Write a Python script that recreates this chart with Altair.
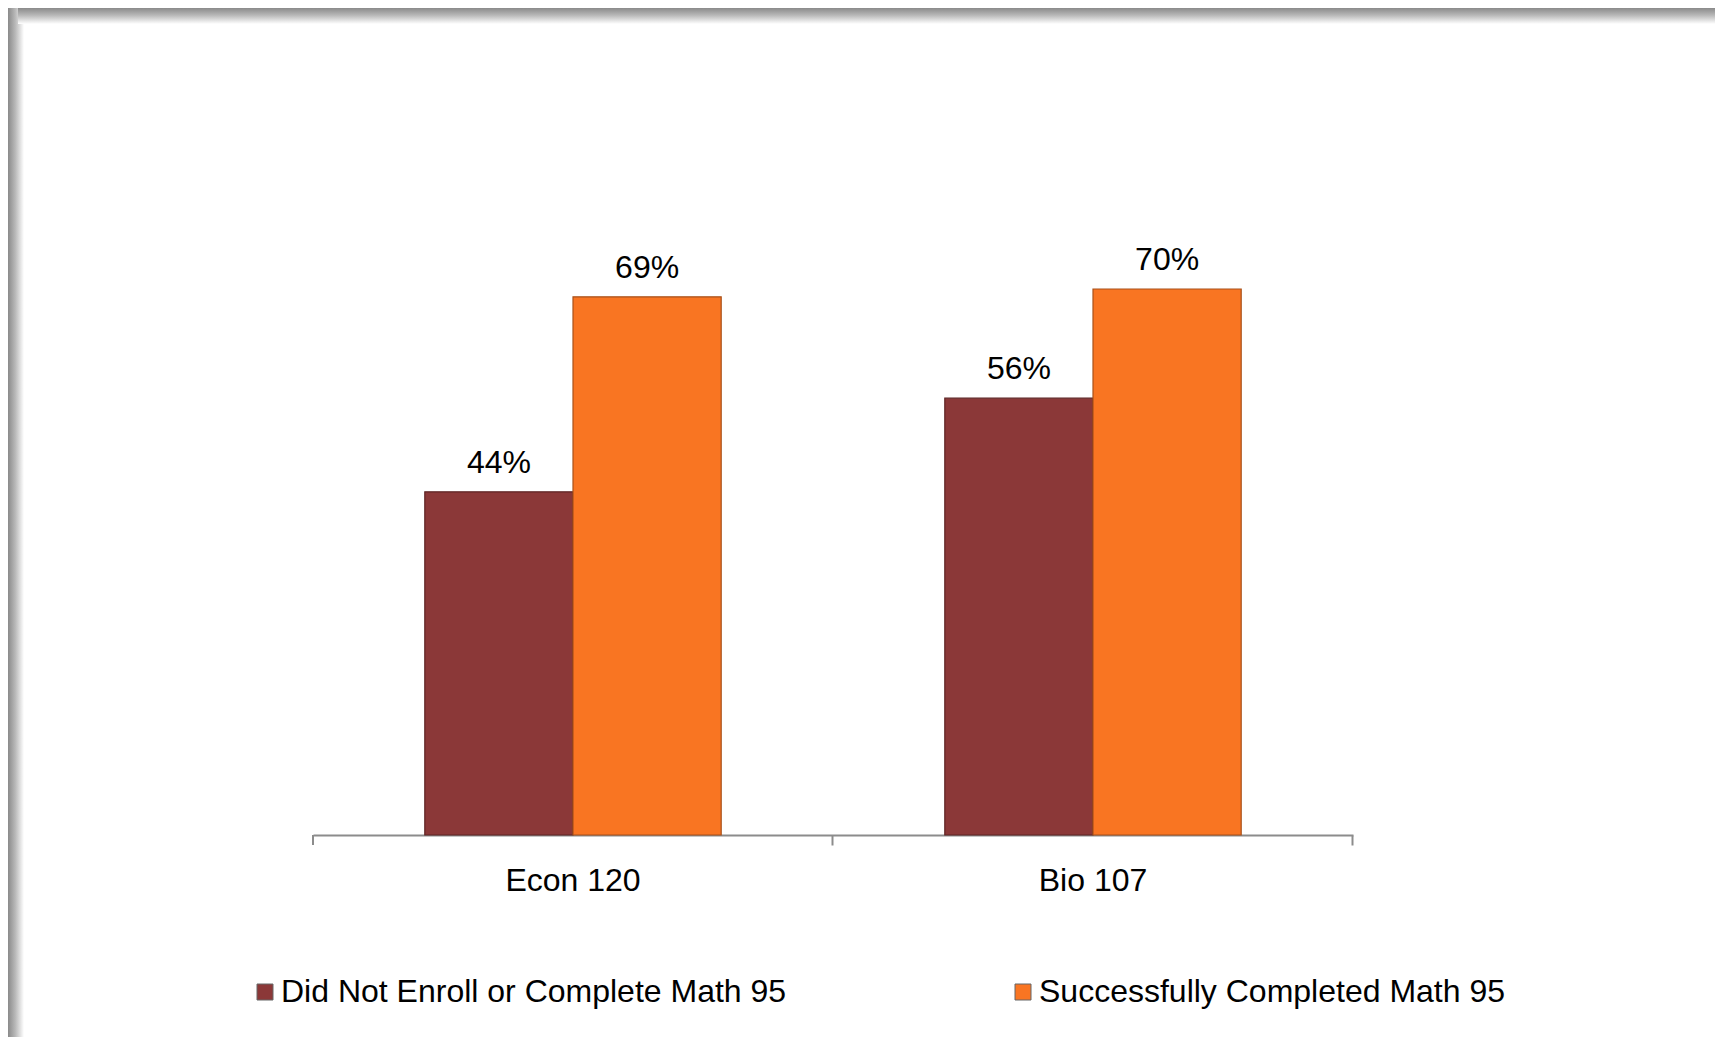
import altair as alt
import pandas as pd

courses = ["Econ 120", "Bio 107"]
groups = ["Did Not Enroll or Complete Math 95", "Successfully Completed Math 95"]
did_not = [44, 56]
completed = [69, 70]
colors = ["#8B3838", "#F97522"]

rows = []
for i, c in enumerate(courses):
    rows.append({"course": c, "group": groups[0], "value": did_not[i], "label": f"{did_not[i]}%"})
    rows.append({"course": c, "group": groups[1], "value": completed[i], "label": f"{completed[i]}%"})
df = pd.DataFrame(rows)

W, H = 1040, 624
PL, PT, PR, PB = 305, 203, 362, 202
FONT = "Liberation Sans"

base = alt.Chart(df)

xenc = alt.X(
    "course:N", sort=courses,
    scale=alt.Scale(paddingInner=0.43, paddingOuter=0.215),
    axis=alt.Axis(title=None, labelAngle=0, bandPosition=1.377, domainColor="#8c8c8c",
                  tickColor="#8c8c8c", tickSize=10, domainWidth=2, tickWidth=2,
                  labelFontSize=32, labelFont=FONT, labelColor="black", labelPadding=20),
)
yenc = alt.Y("value:Q", scale=alt.Scale(domain=[0, 80]), axis=None)
xoff = alt.XOffset("group:N", sort=groups)

bars = base.mark_bar(strokeWidth=1.2).encode(
    x=xenc, y=yenc, xOffset=xoff,
    color=alt.Color("group:N", sort=groups,
                    scale=alt.Scale(domain=groups, range=colors),
                    legend=alt.Legend(title=None, orient="none", legendX=-64, legendY=765,
                                      direction="horizontal",
                                      symbolType="square", symbolSize=256, symbolStrokeWidth=1,
                                      symbolStrokeColor="#666", labelFontSize=32, labelFont=FONT,
                                      labelColor="black", labelLimit=0, labelOffset=0,
                                      columnPadding=220, padding=0)),
    stroke=alt.condition(alt.datum.group == groups[0], alt.value("#5E2424"), alt.value("#A8501A")),
)

labels = base.mark_text(baseline="bottom", dy=-12, fontSize=32, font=FONT, color="black").encode(
    x=alt.X("course:N", sort=courses), xOffset=xoff, y=yenc, text="label:N",
)

stops = [alt.GradientStop(offset=0, color="#8a8a8a"),
         alt.GradientStop(offset=0.45, color="#b8b8b8"),
         alt.GradientStop(offset=1, color="#ffffff")]
left_frame = base.mark_rect(
    fill=alt.LinearGradient(gradient="linear", stops=stops, x1=0, x2=1, y1=0, y2=0)
).encode(x=alt.value(-PL), x2=alt.value(-PL + 16), y=alt.value(-PT), y2=alt.value(H + PB))
top_frame = base.mark_rect(
    fill=alt.LinearGradient(gradient="linear", stops=stops, x1=0, x2=0, y1=0, y2=1)
).encode(x=alt.value(-PL + 10), x2=alt.value(W + PR), y=alt.value(-PT), y2=alt.value(-PT + 16))

# first axis tick at the left end of the category axis
start_tick = base.mark_rect(fill="#8c8c8c").encode(
    x=alt.value(-1), x2=alt.value(1), y=alt.value(H), y2=alt.value(H + 10))

chart = alt.layer(left_frame, top_frame, start_tick, bars, labels).properties(
    width=W, height=H, autosize="none",
    padding={"left": PL, "top": PT, "right": PR, "bottom": PB},
    background="white",
).configure_view(stroke=None)

chart.save("out.html", embed_options={"renderer": "svg", "actions": False})
